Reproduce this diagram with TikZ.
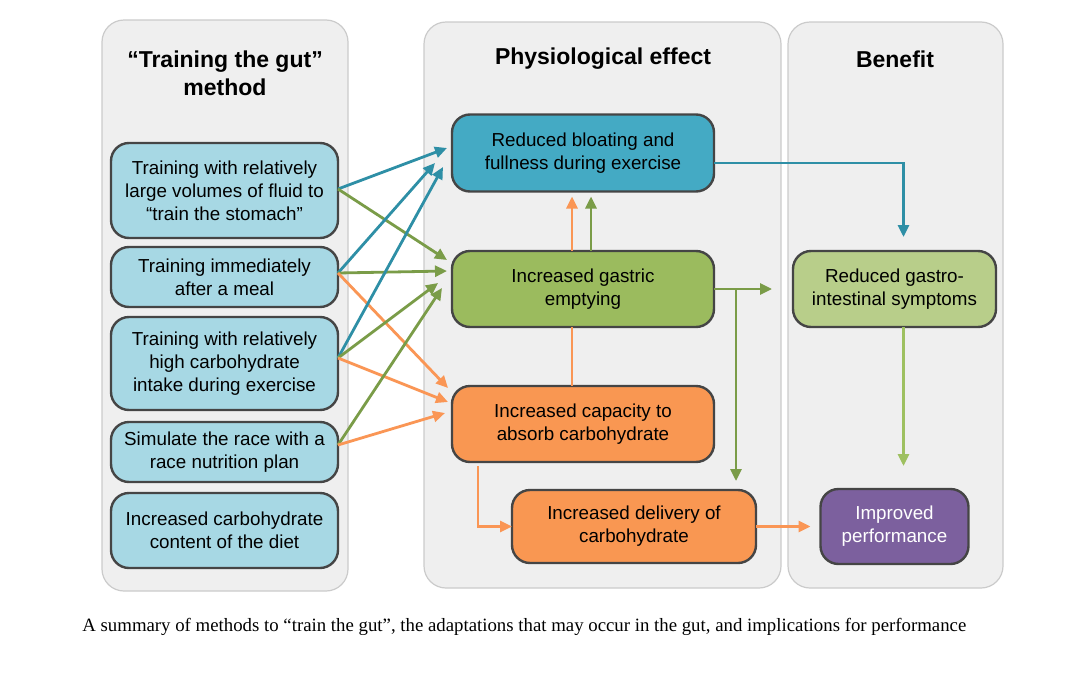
\documentclass[tikz,border=0pt]{standalone}
\usepackage{fontspec}
\setmainfont{Liberation Sans}
\newfontfamily\capfont{Liberation Serif}
\usetikzlibrary{arrows.meta}
\definecolor{panelgray}{HTML}{EFEFEF}
\definecolor{panelline}{HTML}{CBCBCB}
\definecolor{boxline}{HTML}{454545}
\definecolor{methodblue}{HTML}{A7D8E4}
\definecolor{bloatblue}{HTML}{44AAC4}
\definecolor{gastricgreen}{HTML}{9BBB5E}
\definecolor{absorborange}{HTML}{F99752}
\definecolor{symptomgreen}{HTML}{B8CE8A}
\definecolor{perfpurple}{HTML}{7C609E}
\definecolor{arrblue}{HTML}{2E8FA6}
\definecolor{arrgreen}{HTML}{7A9C48}
\definecolor{arrorange}{HTML}{FA9655}
\definecolor{arrlgreen}{HTML}{9EC060}

\begin{document}
\begin{tikzpicture}[x=1pt,y=-1pt,>={Triangle[length=12pt,width=11pt]},line width=2.8pt]
\tikzstyle{panel}=[fill=panelgray,draw=panelline,line width=1.2pt,rounded corners=22pt]
\tikzstyle{blk}=[rectangle,draw=boxline,line width=2.4pt,rounded corners=18pt,align=center,inner sep=0pt,outer sep=0pt,font=\fontsize{18.8}{23}\selectfont]
\tikzstyle{meth}=[blk,fill=methodblue,minimum width=227pt]
\tikzstyle{ttl}=[align=center,font=\fontsize{23}{28}\selectfont\bfseries]
\useasboundingbox (0,0) rectangle (1080,675);
\fill[white] (0,0) rectangle (1080,675);
% panels
\draw[panel] (102,20) rectangle (348,591);
\draw[panel] (424,22) rectangle (781,588);
\draw[panel] (788,22) rectangle (1003,588);
\node[ttl] (ttlmethod) at (225,73) {“Training the gut”\\method};
\node[ttl] (ttleffect) at (603,59) {Physiological effect};
\node[ttl] (ttlbenefit) at (895,59) {Benefit};
% methods
\node[meth,minimum height=95pt] (fluid) at (224.5,190.5) {Training with relatively\\large volumes of fluid to\\“train the stomach”};
\node[meth,minimum height=60pt] (meal) at (224.5,277) {Training immediately\\after a meal};
\node[meth,minimum height=93pt] (carbint) at (224.5,363.5) {Training with relatively\\high carbohydrate\\intake during exercise};
\node[meth,minimum height=60pt] (race) at (224.5,452) {Simulate the race with a\\race nutrition plan};
\node[meth,minimum height=75pt] (diet) at (224.5,530.5) {Increased carbohydrate\\content of the diet};
% effects
\node[blk,fill=bloatblue,minimum width=262pt,minimum height=77pt] (bloat) at (583,153) {Reduced bloating and\\fullness during exercise};
\node[blk,fill=gastricgreen,minimum width=262pt,minimum height=76pt] (gastric) at (583,289) {Increased gastric\\emptying};
\node[blk,fill=absorborange,minimum width=262pt,minimum height=76pt] (absorb) at (583,424) {Increased capacity to\\absorb carbohydrate};
\node[blk,fill=absorborange,minimum width=244pt,minimum height=73pt] (deliver) at (634,526.5) {Increased delivery of\\carbohydrate};
% benefits
\node[blk,fill=symptomgreen,minimum width=203pt,minimum height=76pt] (gastro) at (894.5,289) {Reduced gastro-\\intestinal symptoms};
\node[blk,fill=perfpurple,text=white,minimum width=148pt,minimum height=75pt] (perf) at (894.5,526.5) {Improved\\performance};
% methods to effects
\draw[->,arrblue] ([yshift=1.5pt]fluid.east) -- ([xshift=-5pt,yshift=5pt]bloat.west);
\draw[->,arrgreen] ([yshift=1.5pt]fluid.east) -- ([xshift=-5pt,yshift=29pt]gastric.west);
\draw[->,arrblue] ([yshift=4pt]meal.east) -- ([xshift=-17pt,yshift=-10pt]bloat.west);
\draw[->,arrgreen] ([yshift=4pt]meal.east) -- ([xshift=-5pt,yshift=18pt]gastric.west);
\draw[->,arrorange] ([yshift=4pt]meal.east) -- ([xshift=-4pt,yshift=36pt]absorb.west);
\draw[->,arrblue] ([yshift=5.5pt]carbint.east) -- ([xshift=-9pt,yshift=-14pt]bloat.west);
\draw[->,arrgreen] ([yshift=5.5pt]carbint.east) -- ([xshift=-14pt,yshift=6pt]gastric.west);
\draw[->,arrorange] ([yshift=5.5pt]carbint.east) -- ([xshift=-4pt,yshift=22pt]absorb.west);
\draw[->,arrgreen] ([yshift=7pt]race.east) -- ([xshift=-10pt,yshift=1pt]gastric.west);
\draw[->,arrorange] ([yshift=7pt]race.east) -- ([xshift=-7pt,yshift=11pt]absorb.west);
% effects to effects
\draw[arrorange] ([xshift=-11pt]absorb.north) -- ([xshift=-11pt]gastric.south);
\draw[->,arrorange] ([xshift=-11pt]gastric.north) -- ([xshift=-11pt,yshift=-5pt]bloat.south);
\draw[->,arrgreen] ([xshift=8pt]gastric.north) -- ([xshift=8pt,yshift=-5pt]bloat.south);
\draw[->,arrorange] ([xshift=-105pt,yshift=-4pt]absorb.south) |- (deliver.west);
\draw[->,arrgreen] ([xshift=22pt]gastric.east) -- ([xshift=102pt,yshift=9pt]deliver.north);
% effects to benefits
\draw[->,arrblue] ([yshift=-10pt]bloat.east) -| ([xshift=9pt,yshift=14pt]gastro.north);
\draw[->,arrgreen] (gastric.east) -- ([xshift=-21pt]gastro.west);
\draw[->,arrlgreen] ([xshift=9pt]gastro.south) -- ([xshift=9pt,yshift=23pt]perf.north);
\draw[->,arrorange] (deliver.east) -- ([xshift=-10pt]perf.west);
% caption
\node[anchor=west,inner sep=0pt,font=\capfont\fontsize{18.8}{23}\selectfont] (caption) at (81,627) {A summary of methods to “train the gut”, the adaptations that may occur in the gut, and implications for performance};
\end{tikzpicture}
\end{document}
